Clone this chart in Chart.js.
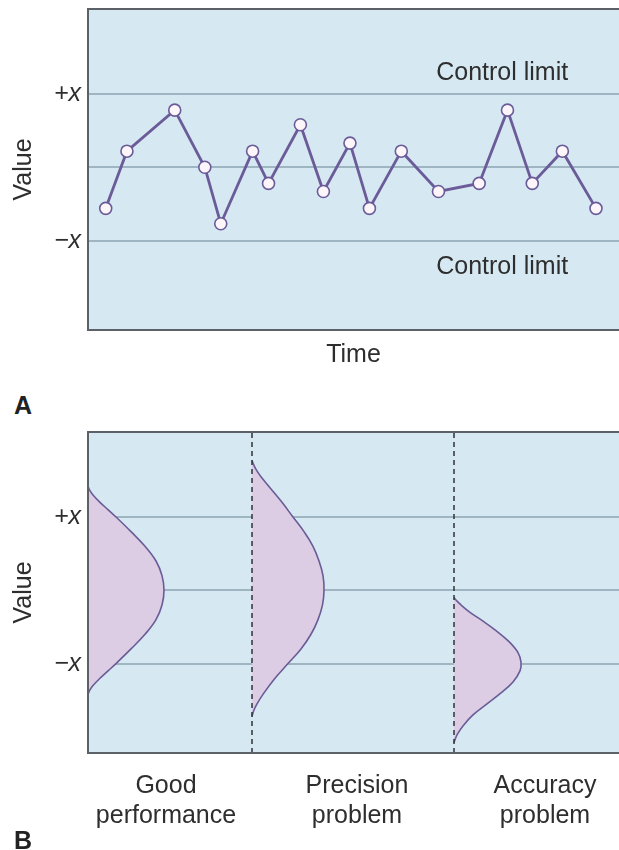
<!DOCTYPE html>
<html>
<head>
<meta charset="utf-8">
<script src="https://cdn.jsdelivr.net/npm/chart.js@4.4.0/dist/chart.umd.min.js"></script>
<style>
  body { margin: 0; background: #fff; width: 619px; height: 850px; overflow: hidden; position: relative; }
  canvas { position: absolute; left: 0; }
  #chartA { top: 0; }
  #chartB { top: 420px; }
  .panel { position: absolute; left: 14px; font: bold 25px/28px "Liberation Sans", Arial, sans-serif; color: #222; }
</style>
</head>
<body>
<canvas id="chartA" width="619" height="380"></canvas>
<div class="panel" style="top:391px">A</div>
<canvas id="chartB" width="619" height="430"></canvas>
<div class="panel" style="top:826px">B</div>
<script>
// --- panel A: control chart ---
var timePoints = [1.0, 2.2, 4.9, 6.6, 7.5, 9.3, 10.2, 12.0, 13.3, 14.8, 15.9, 17.7, 19.8, 22.1, 23.7, 25.1, 26.8, 28.7];
var values = [-0.56, 0.22, 0.78, 0, -0.77, 0.22, -0.22, 0.58, -0.33, 0.33, -0.56, 0.22, -0.33, -0.22, 0.78, -0.22, 0.22, -0.56];
var limitTicks = [-1, 0, 1];
var limitLabels = ['\u2212x', '', '+x'];

// --- panel B: distributions (position on value axis, width of the curve) ---
var groupLabels = [['Good', 'performance'], ['Precision', 'problem'], ['Accuracy', 'problem']];
var groupLabelPos = [78, 269, 457];
var baselines = [0, 164, 366];
var goodPos = [-1.42, -1.37, -1.3, -1.2, -1.1, -1.0, -0.8, -0.6, -0.4, -0.2, 0, 0.2, 0.4, 0.6, 0.8, 1.0, 1.1, 1.2, 1.3, 1.37, 1.42];
var goodWidth = [0, 1.5, 5, 12, 20, 28, 43, 57, 68, 74, 76, 74, 68, 57, 43, 28, 20, 12, 5, 1.5, 0];
var precisionPos = [-1.72, -1.65, -1.55, -1.4, -1.2, -1.0, -0.8, -0.6, -0.4, -0.2, 0, 0.2, 0.4, 0.6, 0.8, 1.0, 1.2, 1.4, 1.55, 1.65, 1.72, 1.77];
var precisionWidth = [0, 1.5, 5, 12, 23, 36, 49, 59, 66, 70.5, 72, 71, 67, 61, 52, 41, 30, 18, 9, 4, 1.5, 0];
var accuracyPos = [-2.08, -2.02, -1.95, -1.85, -1.7, -1.55, -1.4, -1.25, -1.1, -0.98, -0.85, -0.7, -0.55, -0.42, -0.3, -0.2, -0.14, -0.1];
var accuracyWidth = [0, 1.5, 4, 9, 19, 33, 47, 59, 66, 67, 64, 55, 42, 29, 16, 7, 2.5, 0];

var ff = '"Liberation Sans", Arial, sans-serif';
var textColor = '#2e2e2e';

// background + frame (right side runs off the picture)
var frame = {
  id: 'frame',
  beforeDraw: function (chart) {
    var a = chart.chartArea, c = chart.ctx;
    c.save();
    c.fillStyle = '#d6e9f3';
    c.fillRect(a.left, a.top, a.right - a.left, a.bottom - a.top);
    c.restore();
  },
  afterDraw: function (chart) {
    var a = chart.chartArea, c = chart.ctx;
    c.save();
    c.strokeStyle = '#5b6166';
    c.lineWidth = 2;
    c.beginPath();
    c.moveTo(a.right + 2, a.top);
    c.lineTo(a.left, a.top);
    c.lineTo(a.left, a.bottom);
    c.lineTo(a.right + 2, a.bottom);
    c.stroke();
    c.restore();
  }
};

// "Control limit" text above / below the limits
var limitText = {
  id: 'limitText',
  afterDraw: function (chart) {
    var x = chart.scales.x, y = chart.scales.y, c = chart.ctx;
    c.save();
    c.fillStyle = textColor;
    c.font = '25px ' + ff;
    c.textAlign = 'center';
    c.textBaseline = 'middle';
    c.fillText('Control limit', x.getPixelForValue(23.4), y.getPixelForValue(1.29));
    c.fillText('Control limit', x.getPixelForValue(23.4), y.getPixelForValue(-1.36));
    c.restore();
  }
};

function valueAxis() {
  return {
    type: 'linear',
    min: -2.22,
    max: 2.16,
    afterFit: function (s) { s.width = 88; s.paddingTop = 0; s.paddingBottom = 0; },
    afterBuildTicks: function (s) { s.ticks = limitTicks.map(function (v) { return { value: v }; }); },
    ticks: {
      callback: function (v, i) { return limitLabels[i]; },
      padding: 7,
      color: textColor,
      font: { size: 25, style: 'italic', family: ff }
    },
    grid: { color: '#9fb6c2', lineWidth: 2, drawTicks: false },
    border: { display: false },
    title: { display: true, text: 'Value', color: textColor, font: { size: 25, family: ff }, padding: { top: 9 } }
  };
}

var points = timePoints.map(function (t, i) { return { x: t, y: values[i] }; });

new Chart(document.getElementById('chartA'), {
  type: 'line',
  data: {
    datasets: [{
      data: points,
      borderColor: '#6b5b98',
      borderWidth: 2.8,
      pointRadius: 6,
      pointBackgroundColor: '#fcf6fb',
      pointBorderColor: '#6b5b98',
      pointBorderWidth: 1.6,
      tension: 0,
      fill: false
    }]
  },
  options: {
    responsive: false,
    animation: false,
    events: [],
    layout: { padding: { top: 9 }, autoPadding: false },
    plugins: { legend: { display: false }, tooltip: { enabled: false } },
    scales: {
      x: {
        type: 'linear', min: 0, max: 30,
        afterFit: function (s) { s.height = 50; s.paddingLeft = 0; s.paddingRight = 0; },
        ticks: { display: false },
        grid: { display: false },
        border: { display: false },
        title: { display: true, text: 'Time', color: textColor, font: { size: 25, family: ff }, padding: { bottom: 10 } }
      },
      y: valueAxis()
    }
  },
  plugins: [frame, limitText]
});

function curve(pos, width, base) {
  return {
    data: pos.map(function (p, i) { return { x: base + width[i], y: p }; }),
    borderColor: '#6a5c96',
    borderWidth: 1.6,
    backgroundColor: '#dccde4',
    pointRadius: 0,
    tension: 0.4,
    fill: { value: base },
    order: 1
  };
}

function dashed(base) {
  return {
    data: [{ x: base, y: -2.22 }, { x: base, y: 2.16 }],
    borderColor: '#2f3338',
    borderWidth: 1.5,
    borderDash: [5, 4],
    pointRadius: 0,
    fill: false,
    order: 0
  };
}

new Chart(document.getElementById('chartB'), {
  type: 'line',
  data: {
    datasets: [
      curve(goodPos, goodWidth, baselines[0]),
      curve(precisionPos, precisionWidth, baselines[1]),
      curve(accuracyPos, accuracyWidth, baselines[2]),
      dashed(baselines[1]),
      dashed(baselines[2])
    ]
  },
  options: {
    responsive: false,
    animation: false,
    events: [],
    indexAxis: 'y',
    layout: { padding: { top: 12 }, autoPadding: false },
    plugins: { legend: { display: false }, tooltip: { enabled: false } },
    scales: {
      x: {
        type: 'linear', min: 0, max: 531,
        afterFit: function (s) { s.height = 97; s.paddingLeft = 0; s.paddingRight = 0; },
        afterBuildTicks: function (s) { s.ticks = groupLabelPos.map(function (v) { return { value: v }; }); },
        ticks: {
          callback: function (v, i) { return groupLabels[i]; },
          autoSkip: false,
          maxRotation: 0,
          padding: 10,
          color: textColor,
          font: { size: 25, family: ff, lineHeight: 1.2 }
        },
        grid: { display: false },
        border: { display: false }
      },
      y: valueAxis()
    }
  },
  plugins: [frame]
});
</script>
</body>
</html>
